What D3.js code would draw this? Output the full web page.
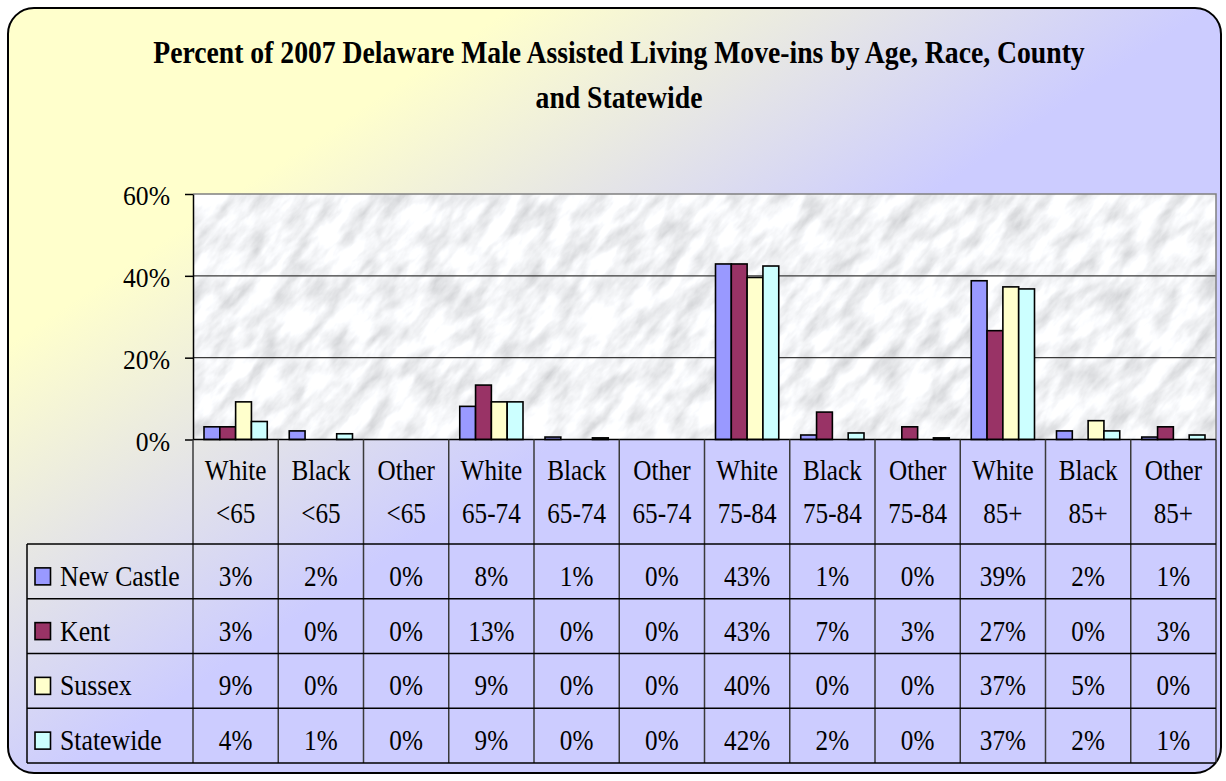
<!DOCTYPE html>
<html>
<head>
<meta charset="utf-8">
<script src="https://cdn.jsdelivr.net/npm/d3@7"></script>
<style>
  html, body { margin: 0; padding: 0; background: #ffffff; }
  svg { display: block; }
  text { font-family: 'Liberation Serif', 'Times New Roman', serif; fill: #000; }
</style>
</head>
<body>
<svg id="chart" width="1226" height="781"></svg>
<script>
// ---------- data ----------
const titleLines = ["Percent of 2007 Delaware Male Assisted Living Move-ins by Age, Race, County", "and Statewide"];
const raceLabels = ["White", "Black", "Other", "White", "Black", "Other", "White", "Black", "Other", "White", "Black", "Other"];
const ageLabels  = ["<65", "<65", "<65", "65-74", "65-74", "65-74", "75-84", "75-84", "75-84", "85+", "85+", "85+"];
const seriesNames = ["New Castle", "Kent", "Sussex", "Statewide"];
const newCastle = [3.1, 2.1, 0, 8.1, 0.6, 0, 42.9, 1.1, 0, 38.8, 2.1, 0.6];
const kent      = [3.1, 0, 0, 13.3, 0, 0, 42.9, 6.7, 3.1, 26.6, 0, 3.1];
const sussex    = [9.2, 0, 0, 9.2, 0, 0, 39.6, 0, 0, 37.3, 4.6, 0];
const statewide = [4.4, 1.4, 0, 9.2, 0.4, 0, 42.4, 1.6, 0.4, 36.8, 2.1, 1.1];
const yTicks = [0, 20, 40, 60];
const seriesColors = ["#9999FF", "#993366", "#FFFFCC", "#CCFFFF"];

const seriesValues = [newCastle, kent, sussex, statewide];
const categories = raceLabels.map((r, i) => r + " " + ageLabels[i]);

// ---------- layout ----------
const svg = d3.select("#chart");
const plotL = 193, plotR = 1216, plotT = 194, plotB = 439.5;
const tableL = 27, tableTop = 544, rowH = 54.75;
const FONT = "'Liberation Serif', 'Times New Roman', serif";

const defs = svg.append("defs");
const grad = defs.append("linearGradient").attr("id", "bgGrad")
  .attr("gradientUnits", "userSpaceOnUse")
  .attr("x1", 161).attr("y1", 242).attr("x2", 377).attr("y2", 565);
grad.append("stop").attr("offset", "0").attr("stop-color", "#FFFFCC");
grad.append("stop").attr("offset", "1").attr("stop-color", "#CCCCFF");

const marble = defs.append("filter").attr("id", "marble")
  .attr("filterUnits", "userSpaceOnUse")
  .attr("x", -2000).attr("y", -2000).attr("width", 5000).attr("height", 5000);
marble.append("feTurbulence").attr("type", "fractalNoise")
  .attr("baseFrequency", "0.026 0.065").attr("numOctaves", 5).attr("seed", 5).attr("result", "n");
marble.append("feColorMatrix").attr("type", "matrix")
  .attr("values", "-0.7 0 0 0 1.25  -0.7 0 0 0 1.26  -0.7 0 0 0 1.28  0 0 0 0 1");

defs.append("clipPath").attr("id", "plotClip")
  .append("rect").attr("x", plotL).attr("y", plotT).attr("width", plotR - plotL).attr("height", plotB - plotT);

// background frame
svg.append("rect").attr("x", 8).attr("y", 8).attr("width", 1213).attr("height", 765)
  .attr("rx", 26).attr("ry", 26)
  .attr("fill", "url(#bgGrad)").attr("stroke", "#000").attr("stroke-width", 2);

// text helper (condensed serif look)
function txt(g, x, y, s, size, anchor, sx, weight) {
  return g.append("text")
    .attr("transform", `translate(${x},${y}) scale(${sx},1)`)
    .attr("text-anchor", anchor)
    .style("font-family", FONT)
    .style("font-size", size + "px")
    .style("font-weight", weight || "normal")
    .text(s);
}

// title
const tg = svg.append("g");
const t1 = txt(tg, 0, 63, titleLines[0], 32, "middle", 1, "bold");
const natural = t1.node().getComputedTextLength();
const tsx = 932 / natural;
t1.attr("transform", `translate(619,63) scale(${tsx},1)`);
txt(tg, 619, 108, titleLines[1], 32, "middle", tsx, "bold");

// scales
const x0 = d3.scaleBand().domain(categories).range([plotL, plotR]).paddingInner(0).paddingOuter(0);
const x1 = d3.scaleBand().domain(seriesNames).range([11, x0.bandwidth() - 11]).padding(0);
const y = d3.scaleLinear().domain([0, 60]).range([plotB, plotT]);

// plot area marble
const pg = svg.append("g").attr("clip-path", "url(#plotClip)");
pg.append("g")
  .attr("transform", `rotate(-50, ${(plotL + plotR) / 2}, ${(plotT + plotB) / 2})`)
  .append("rect")
  .attr("x", plotL - 400).attr("y", plotT - 800).attr("width", plotR - plotL + 800).attr("height", 1850)
  .attr("fill", "#e8e8ec").attr("filter", "url(#marble)");

// gridlines
svg.append("g").selectAll("line").data(yTicks.filter(d => d > 0 && d < 60)).join("line")
  .attr("x1", plotL).attr("x2", plotR).attr("y1", d => y(d)).attr("y2", d => y(d))
  .attr("stroke", "#3a3a3a").attr("stroke-width", 1.2);
// top and right border
svg.append("path")
  .attr("d", `M${plotL},${y(60)}H${plotR}V${plotB}`)
  .attr("fill", "none").attr("stroke", "#808080").attr("stroke-width", 1.5);

// bars
const barG = svg.append("g");
seriesNames.forEach((s, si) => {
  barG.append("g").selectAll("rect").data(seriesValues[si]).join("rect")
    .attr("x", (d, i) => x0(categories[i]) + x1(s))
    .attr("width", x1.bandwidth())
    .attr("y", d => y(d))
    .attr("height", d => plotB - y(d))
    .attr("fill", seriesColors[si])
    .attr("stroke", "#000").attr("stroke-width", 1.6);
});

// y axis
const yAxis = d3.axisLeft(y).tickValues(yTicks).tickFormat(d => d + "%")
  .tickSize(8).tickSizeOuter(0).tickPadding(15);
const ag = svg.append("g").attr("transform", `translate(${plotL},0)`).call(yAxis);
ag.select(".domain").attr("stroke", "#000").attr("stroke-width", 1.5);
ag.selectAll(".tick line").attr("stroke", "#000").attr("stroke-width", 1.5);
ag.selectAll(".tick text")
  .style("font-family", FONT).style("font-size", "27px").attr("fill", "#000")
  .attr("dy", "0.4em")
  .attr("transform", "scale(0.95,1)")
  .attr("x", -23 / 0.95);

// baseline
svg.append("line").attr("x1", plotL).attr("x2", plotR).attr("y1", plotB).attr("y2", plotB)
  .attr("stroke", "#000").attr("stroke-width", 1.5);

// data table
const tabG = svg.append("g");
const tableBottom = tableTop + rowH * seriesNames.length;
const bounds = categories.map(c => x0(c)).concat([plotR]);
tabG.selectAll("line.v").data(bounds).join("line").attr("class", "v")
  .attr("x1", d => d).attr("x2", d => d).attr("y1", plotB).attr("y2", tableBottom)
  .attr("stroke", "#3a3a3a").attr("stroke-width", 1.5);
const hys = d3.range(seriesNames.length + 1).map(i => tableTop + i * rowH);
tabG.selectAll("line.h").data(hys).join("line").attr("class", "h")
  .attr("x1", tableL).attr("x2", plotR).attr("y1", d => d).attr("y2", d => d)
  .attr("stroke", "#000").attr("stroke-width", 1.5);
tabG.append("line").attr("x1", tableL).attr("x2", tableL).attr("y1", tableTop).attr("y2", tableBottom)
  .attr("stroke", "#000").attr("stroke-width", 1.5);

// category labels
categories.forEach((c, i) => {
  const cx = x0(c) + x0.bandwidth() / 2;
  txt(tabG, cx, 480, raceLabels[i], 30, "middle", 0.84);
  txt(tabG, cx, 523, ageLabels[i], 30, "middle", 0.84);
});

// rows
seriesNames.forEach((s, si) => {
  const top = tableTop + si * rowH;
  const base = top + rowH / 2 + 14.5;
  tabG.append("rect").attr("x", 35).attr("y", base - 18).attr("width", 15.5).attr("height", 17)
    .attr("fill", seriesColors[si]).attr("stroke", "#000").attr("stroke-width", 1.6);
  txt(tabG, 60, base, s, 30, "start", 0.86);
  seriesValues[si].forEach((v, i) => {
    txt(tabG, x0(categories[i]) + x0.bandwidth() / 2, base, Math.round(v) + "%", 30, "middle", 0.84);
  });
});
</script>
</body>
</html>
